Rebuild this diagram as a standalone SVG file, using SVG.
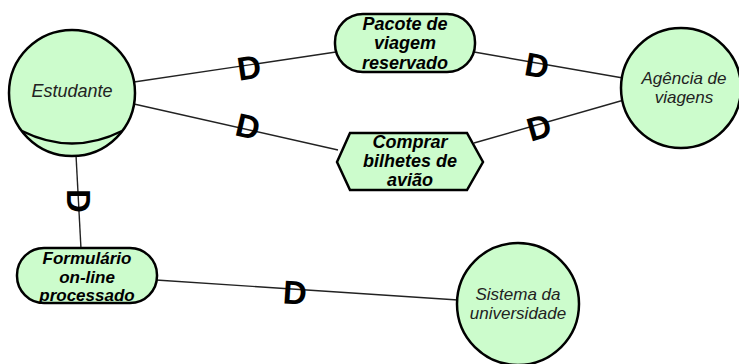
<svg xmlns="http://www.w3.org/2000/svg" width="739" height="364" viewBox="0 0 739 364">
<style>
.shape{fill:#ccfccc;stroke:#000;stroke-width:2.5}
.lnk{stroke:#222;stroke-width:1.4;fill:none}
.al{font-family:"Liberation Sans",Arial,sans-serif;font-size:18px;font-style:italic;fill:#222;text-anchor:middle}
.bl{font-family:"Liberation Sans",Arial,sans-serif;font-size:18px;font-style:italic;font-weight:bold;fill:#000;text-anchor:middle}
.sm{font-size:17px}
.d{font-family:"Liberation Sans",Arial,sans-serif;font-size:33px;font-weight:bold;fill:#000;text-anchor:middle}
</style>
<rect width="739" height="364" fill="#fff"/>
<g id="connectors">
<line class="lnk" x1="134" y1="82" x2="336" y2="52"/>
<line class="lnk" x1="474" y1="52" x2="623" y2="78"/>
<line class="lnk" x1="134" y1="104" x2="338" y2="150"/>
<line class="lnk" x1="474" y1="143" x2="624" y2="100"/>
<line class="lnk" x1="76" y1="155" x2="81" y2="249"/>
<line class="lnk" x1="156" y1="280" x2="458" y2="300"/>
<text class="d" transform="translate(249,67) rotate(-8.6)" x="0" y="12">D</text>
<text class="d" transform="translate(537,65) rotate(10)" x="0" y="12">D</text>
<text class="d" transform="translate(248,126) rotate(12.9)" x="0" y="12">D</text>
<text class="d" transform="translate(539,127) rotate(-16)" x="0" y="12">D</text>
<text class="d" transform="translate(79,201) rotate(90)" x="0" y="12">D</text>
<text class="d" transform="translate(295,292) rotate(3.8)" x="0" y="12">D</text>
</g>
<g id="estudante">
<circle class="shape" cx="72" cy="93" r="63"/>
<path d="M22 131 Q72 156 122 131" fill="none" stroke="#000" stroke-width="2.5"/>
<text class="al" x="72" y="97">Estudante</text>
</g>
<g id="agencia">
<circle class="shape" cx="681" cy="88" r="60"/>
<text class="al sm" x="684" y="84">Agência de</text>
<text class="al sm" x="684" y="103">viagens</text>
</g>
<g id="sistema">
<circle class="shape" cx="518" cy="304" r="61"/>
<text class="al sm" x="518" y="300">Sistema da</text>
<text class="al sm" x="518" y="319">universidade</text>
</g>
<g id="pacote">
<rect class="shape" x="335" y="14" width="140" height="58" rx="28" ry="28"/>
<text class="bl" x="405" y="30">Pacote de</text>
<text class="bl" x="405" y="49">viagem</text>
<text class="bl" x="405" y="69">reservado</text>
</g>
<g id="comprar">
<polygon class="shape" points="337,162 350,133 467,133 483,162 467,190 350,190"/>
<text class="bl" x="410" y="148">Comprar</text>
<text class="bl" x="410" y="167">bilhetes de</text>
<text class="bl" x="410" y="186">avião</text>
</g>
<g id="formulario">
<rect class="shape" x="17" y="248" width="140" height="55" rx="27" ry="27"/>
<text class="bl sm" x="87" y="264">Formulário</text>
<text class="bl sm" x="87" y="283">on-line</text>
<text class="bl sm" x="87" y="301">processado</text>
</g>
</svg>
